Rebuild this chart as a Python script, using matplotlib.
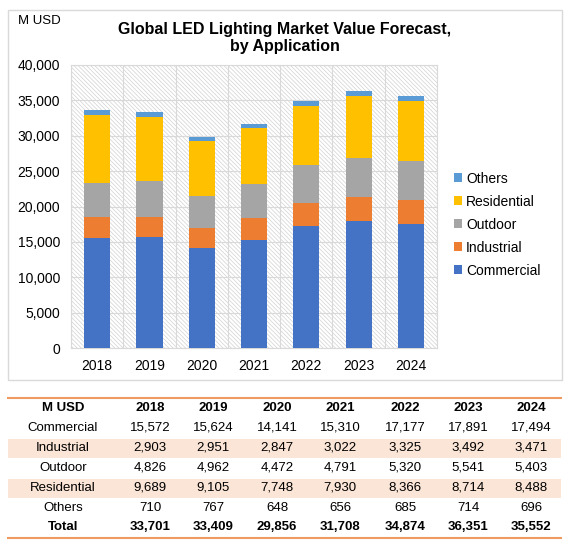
import numpy as np
import matplotlib
matplotlib.use("Agg")
import matplotlib.pyplot as plt
import matplotlib.patches as patches

years = ["2018", "2019", "2020", "2021", "2022", "2023", "2024"]
segments = ["Commercial", "Industrial", "Outdoor", "Residential", "Others"]
commercial = [15572, 15624, 14141, 15310, 17177, 17891, 17494]
industrial = [2903, 2951, 2847, 3022, 3325, 3492, 3471]
outdoor = [4826, 4962, 4472, 4791, 5320, 5541, 5403]
residential = [9689, 9105, 7748, 7930, 8366, 8714, 8488]
others = [710, 767, 648, 656, 685, 714, 696]
totals = [33701, 33409, 29856, 31708, 34874, 36351, 35552]
colors = ["#4472C4", "#ED7D31", "#A5A5A5", "#FFC000", "#5B9BD5"]

plt.rcParams['font.family'] = ['Liberation Sans', 'DejaVu Sans']
plt.rcParams['hatch.linewidth'] = 0.5

W, H = 573, 545
fig = plt.figure(figsize=(W / 100, H / 100), dpi=100)

def fx(px):
    return px / W

def fy(py):
    return 1 - py / H

# chart frame
fig.patches.append(patches.Rectangle((fx(8), fy(380)), fx(562) - fx(8), fy(10) - fy(380),
                                     transform=fig.transFigure, fill=False,
                                     edgecolor="#D9D9D9", lw=1))

ax = fig.add_axes([fx(71), fy(348), fx(437) - fx(71), fy(65) - fy(348)])
ax.add_patch(patches.Rectangle((0, 0), 1, 1, transform=ax.transAxes, facecolor="white",
                               edgecolor="#D2D2D2", hatch="\\" * 8, lw=0, zorder=0))

series = [commercial, industrial, outdoor, residential, others]
x = np.arange(len(years))
bottom = np.zeros(len(years))
handles = []
for name, vals, c in zip(segments, series, colors):
    b = ax.bar(x, vals, 0.5, bottom=bottom, color=c, label=name, zorder=3)
    handles.append(b)
    bottom += np.array(vals)

ax.set_xlim(-0.5, len(years) - 0.5)
ax.set_ylim(0, 40000)
ax.set_yticks(np.arange(0, 40001, 5000))
ax.set_yticklabels([f"{v:,}" for v in range(0, 40001, 5000)], fontsize=10)
ax.set_xticks(x)
ax.set_xticklabels(years, fontsize=10)
ax.set_xticks(np.arange(-0.5, len(years), 1), minor=True)
ax.tick_params(length=0, which="both", pad=8)
ax.grid(True, axis="y", color="#D9D9D9", lw=0.8, zorder=1)
ax.grid(True, axis="x", which="minor", color="#D9D9D9", lw=0.8, zorder=1)
for s in ax.spines.values():
    s.set_color("#D9D9D9")
    s.set_linewidth(0.8)

fig.legend(handles[::-1], segments[::-1], loc="upper left",
           bbox_to_anchor=(fx(448), fy(166)), frameon=False, fontsize=10,
           handlelength=0.6, handleheight=0.6, handletextpad=0.3,
           labelspacing=0.65, borderaxespad=0)

fig.text(fx(285), fy(38), "Global LED Lighting Market Value Forecast,\nby Application",
         ha="center", va="center", fontsize=11.5, fontweight="bold", linespacing=1.15)
fig.text(fx(18), fy(21), "M USD", ha="left", va="center", fontsize=9.5)

# table under the chart
col_x = [63, 150, 213, 277, 340, 405, 468, 531]
row_y = [408, 428, 448, 468, 488, 508, 527]
row_labels = segments + ["Total"]
row_vals = series + [totals]
for i in [2, 4]:
    fig.patches.append(patches.Rectangle((fx(8), fy(row_y[i] + 10)), fx(561) - fx(8), 19.5 / H,
                                         transform=fig.transFigure, facecolor="#FBE5D6",
                                         edgecolor="none"))
for yy in [398, 538]:
    fig.add_artist(plt.Line2D([fx(8), fx(561)], [fy(yy), fy(yy)], transform=fig.transFigure,
                              color="#EE9A60", lw=1.5))

fig.text(fx(col_x[0]), fy(row_y[0]), "M USD", ha="center", va="center", fontsize=9.5,
         fontweight="bold")
for j, yr in enumerate(years):
    fig.text(fx(col_x[j + 1]), fy(row_y[0]), yr, ha="center", va="center", fontsize=9.5,
             fontweight="bold")
for i, (lab, vals) in enumerate(zip(row_labels, row_vals)):
    w = "bold" if lab == "Total" else "normal"
    fig.text(fx(col_x[0]), fy(row_y[i + 1]), lab, ha="center", va="center", fontsize=9.5,
             fontweight=w)
    for j, v in enumerate(vals):
        fig.text(fx(col_x[j + 1]), fy(row_y[i + 1]), f"{v:,}", ha="center", va="center",
                 fontsize=9.5, fontweight=w)

fig.savefig("out.png", dpi=100)
